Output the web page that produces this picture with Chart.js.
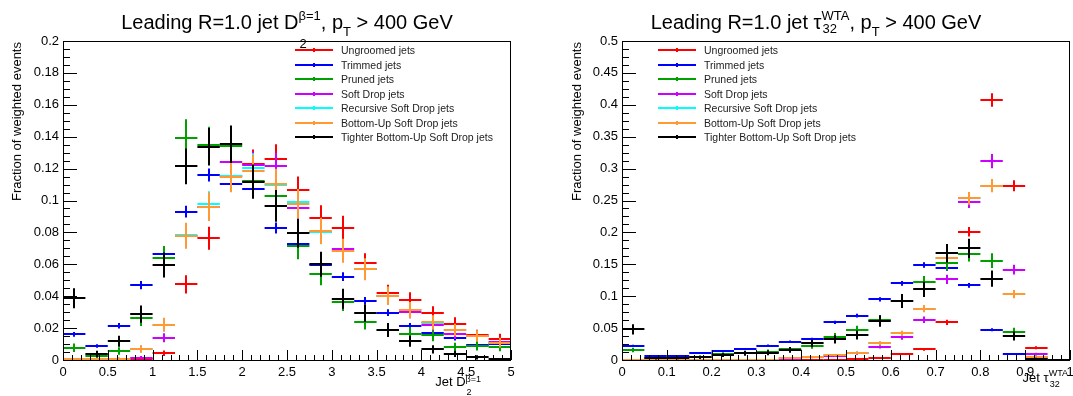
<!DOCTYPE html>
<html>
<head>
<meta charset="utf-8">
<script src="https://cdn.jsdelivr.net/npm/chart.js@4.4.1/dist/chart.umd.min.js"></script>
<style>
  html, body { margin: 0; padding: 0; background: #fff; }
  body { width: 1073px; height: 396px; position: relative; overflow: hidden; font-family: "Liberation Sans", Arial, sans-serif; color: #000; }
  canvas { position: absolute; top: 0; }
  .title { position: absolute; top: 10px; font-size: 20px; line-height: 24px; white-space: nowrap; transform: translateX(-50%); }
  .stk { position: relative; display: inline-block; font-size: 13px; line-height: 13px; }
  .stk .up { position: relative; top: -9px; }
  .stk .dn { position: absolute; left: 1px; top: 19px; }
  .tau .stk .dn { top: 4px; }
  .sb { font-size: 13px; position: relative; top: 7px; }
  .ytitle { position: absolute; width: 0; height: 0; }
  .ytitle span { position: absolute; right: 0; top: 0; white-space: nowrap; font-size: 13px; line-height: 14px; transform-origin: right top; transform: rotate(-90deg); }
  .xtitle { position: absolute; top: 375px; font-size: 13px; line-height: 14px; white-space: nowrap; transform: translateX(-100%); }
  .xtitle .stk { font-size: 9px; line-height: 9px; }
  .xtitle .stk .up { top: -4px; }
  .xtitle .stk .dn { top: 9px; }
  .xtitle.tau { top: 371px; }
  .xtitle.tau .stk .up { top: -6px; }
  .xtitle.tau .stk .dn { top: 5px; }
  .legend { position: absolute; top: 43px; font-size: 10.5px; color: #222; }
  .legend .row { position: relative; height: 14.5px; line-height: 14.5px; white-space: nowrap; }
  .legend .swatch { position: absolute; left: 0; top: 6px; width: 38px; height: 2px; }
  .legend .swatch i { position: absolute; left: 18px; top: -1px; width: 2px; height: 4px; background: inherit; }
  .legend .label { position: absolute; white-space: nowrap; }
</style>
</head>
<body>
<canvas id="d2Chart" width="536" height="396" style="left:0"></canvas>
<canvas id="tauChart" width="537" height="396" style="left:536px"></canvas>

<div class="title" style="left:287px">Leading R=1.0 jet D<span class="stk"><span class="up">&beta;=1</span><span class="dn">2</span></span>, p<span class="sb">T</span> &gt; 400 GeV</div>
<div class="title tau" style="left:816px">Leading R=1.0 jet &tau;<span class="stk"><span class="up">WTA</span><span class="dn">32</span></span>, p<span class="sb">T</span> &gt; 400 GeV</div>

<div class="ytitle" style="left:10px;top:42px"><span>Fraction of weighted events</span></div>
<div class="ytitle" style="left:570px;top:42px"><span>Fraction of weighted events</span></div>

<div class="xtitle" style="left:481px">Jet D<span class="stk"><span class="up">&beta;=1</span><span class="dn">2</span></span></div>
<div class="xtitle tau" style="left:1068px">Jet &tau;<span class="stk"><span class="up">WTA</span><span class="dn">32</span></span></div>

<div class="legend" id="d2Legend" style="left:295px"></div>
<div class="legend" id="tauLegend" style="left:658px"></div>

<script>
const seriesNames = [
  'Ungroomed jets',
  'Trimmed jets',
  'Pruned jets',
  'Soft Drop jets',
  'Recursive Soft Drop jets',
  'Bottom-Up Soft Drop jets',
  'Tighter Bottom-Up Soft Drop jets'
];
const seriesColors = ['#ff0000', '#0000ff', '#00a000', '#cc00ff', '#00ffff', '#ff9933', '#000000'];

// bin edges
const d2Edges = [0, 0.25, 0.5, 0.75, 1, 1.25, 1.5, 1.75, 2, 2.25, 2.5, 2.75, 3, 3.25, 3.5, 3.75, 4, 4.25, 4.5, 4.75, 5];
const tauEdges = [0, 0.05, 0.1, 0.15, 0.2, 0.25, 0.3, 0.35, 0.4, 0.45, 0.5, 0.55, 0.6, 0.65, 0.7, 0.75, 0.8, 0.85, 0.9, 0.95, 1];

// tick labels
const d2XTicks = [0, 0.5, 1, 1.5, 2, 2.5, 3, 3.5, 4, 4.5, 5];
const d2YTicks = [0, 0.02, 0.04, 0.06, 0.08, 0.1, 0.12, 0.14, 0.16, 0.18, 0.2];
const tauXTicks = [0, 0.1, 0.2, 0.3, 0.4, 0.5, 0.6, 0.7, 0.8, 0.9, 1];
const tauYTicks = [0, 0.05, 0.1, 0.15, 0.2, 0.25, 0.3, 0.35, 0.4, 0.45, 0.5];

// D2 (beta=1) distributions
const d2Ungroomed = [0.0003, 0.0003, 0.0005, 0.0008, 0.0042, 0.0474, 0.0763, 0.1156, 0.1229, 0.126, 0.1066, 0.0892, 0.083, 0.0606, 0.0418, 0.0374, 0.0293, 0.0228, 0.0157, 0.0134];
const d2Trimmed = [0.0161, 0.0088, 0.0215, 0.047, 0.0663, 0.093, 0.116, 0.1101, 0.1072, 0.0828, 0.0725, 0.0598, 0.0522, 0.0372, 0.0297, 0.0215, 0.0169, 0.0136, 0.0096, 0.0102];
const d2Pruned = [0.0077, 0.0025, 0.0056, 0.0263, 0.0637, 0.1394, 0.1348, 0.1342, 0.112, 0.1026, 0.0715, 0.0541, 0.0366, 0.024, 0.019, 0.0165, 0.0157, 0.008, 0.0088, 0.0084];
const d2SoftDrop = [0.0002, 0.0002, 0.0004, 0.0015, 0.014, 0.078, 0.096, 0.124, 0.1222, 0.1214, 0.0951, 0.08, 0.0694, 0.057, 0.04, 0.0303, 0.0219, 0.0163, 0.015, 0.011];
const d2RecursiveSD = [0.0006, 0.0005, 0.0008, 0.0069, 0.0221, 0.0785, 0.0976, 0.1156, 0.1206, 0.11, 0.0989, 0.08, 0.0685, 0.0569, 0.0403, 0.0313, 0.0232, 0.0188, 0.0151, 0.0109];
const d2BottomUpSD = [0.0006, 0.0005, 0.0008, 0.0069, 0.0221, 0.0779, 0.0961, 0.115, 0.1187, 0.1103, 0.0978, 0.0809, 0.0685, 0.0569, 0.0403, 0.0313, 0.0236, 0.0188, 0.0151, 0.0109];
const d2TighterBUSD = [0.0387, 0.0038, 0.0117, 0.0288, 0.0596, 0.1214, 0.1337, 0.1352, 0.1118, 0.0967, 0.0794, 0.06, 0.0384, 0.0295, 0.0188, 0.0117, 0.0067, 0.0038, 0.0017, 0.0004];

// tau32 (WTA) distributions
const tauUngroomed = [0, 0, 0, 0, 0, 0, 0, 0, 0.0005, 0.0005, 0.0015, 0.0025, 0.0094, 0.0167, 0.059, 0.2011, 0.4075, 0.2732, 0.0193, 0];
const tauTrimmed = [0.0224, 0.0063, 0.0066, 0.0105, 0.0136, 0.0167, 0.0225, 0.0287, 0.0329, 0.059, 0.0695, 0.0951, 0.1202, 0.1489, 0.1442, 0.117, 0.0475, 0.0094, 0.001, 0];
const tauPruned = [0.0157, 0.0026, 0.003, 0.0052, 0.009, 0.0115, 0.013, 0.0167, 0.022, 0.0366, 0.0475, 0.0627, 0.093, 0.1217, 0.152, 0.1661, 0.1557, 0.0444, 0.005, 0];
const tauSoftDrop = [0, 0, 0, 0, 0, 0, 0, 0.0015, 0.004, 0.007, 0.0104, 0.0209, 0.0355, 0.0632, 0.1264, 0.2482, 0.3119, 0.1416, 0.0094, 0];
const tauRecursiveSD = [0, 0, 0, 0, 0, 0.0005, 0.0005, 0.003, 0.005, 0.0078, 0.0115, 0.0261, 0.0418, 0.0805, 0.1604, 0.2534, 0.2732, 0.1034, 0.004, 0];
const tauBottomUpSD = [0, 0, 0, 0, 0, 0.0005, 0.0005, 0.003, 0.005, 0.0078, 0.0115, 0.0261, 0.0418, 0.0805, 0.1599, 0.2534, 0.2732, 0.1034, 0.004, 0.0005];
const tauTighterBUSD = [0.048, 0.0026, 0.003, 0.004, 0.0078, 0.0105, 0.0115, 0.016, 0.026, 0.0324, 0.0392, 0.0611, 0.0925, 0.1108, 0.1672, 0.175, 0.1275, 0.0376, 0.002, 0];

// rough statistical error size per series (err ~ k * sqrt(value))
const d2ErrScale = [0.026, 0.012, 0.031, 0.024, 0.026, 0.029, 0.032];
const tauErrScale = [0.0165, 0.011, 0.029, 0.02, 0.018, 0.02, 0.036];

const d2Series = [d2Ungroomed, d2Trimmed, d2Pruned, d2SoftDrop, d2RecursiveSD, d2BottomUpSD, d2TighterBUSD];
const tauSeries = [tauUngroomed, tauTrimmed, tauPruned, tauSoftDrop, tauRecursiveSD, tauBottomUpSD, tauTighterBUSD];

// draws ROOT-style crosses: bin-width horizontal bar + vertical error bar
const crossPlugin = {
  id: 'crosses',
  afterDatasetsDraw(chart) {
    const { ctx, chartArea } = chart;
    const xs = chart.scales.x;
    const ys = chart.scales.y;
    ctx.save();
    ctx.beginPath();
    ctx.rect(chartArea.left, chartArea.top, chartArea.width, chartArea.height);
    ctx.clip();
    ctx.lineWidth = 2;
    chart.data.datasets.forEach(ds => {
      ctx.strokeStyle = ds.borderColor;
      ds.data.forEach(p => {
        const yc = Math.round(ys.getPixelForValue(p.y));
        const xc = Math.round(xs.getPixelForValue(p.x));
        ctx.beginPath();
        ctx.moveTo(xs.getPixelForValue(p.lo), yc);
        ctx.lineTo(xs.getPixelForValue(p.hi), yc);
        ctx.moveTo(xc, ys.getPixelForValue(p.y + p.err));
        ctx.lineTo(xc, ys.getPixelForValue(Math.max(0, p.y - p.err)));
        ctx.stroke();
      });
    });
    ctx.restore();
  }
};

// frame plus inward major/minor ticks on the left and bottom axes
const rootAxesPlugin = {
  id: 'rootAxes',
  afterDraw(chart, args, opts) {
    const { ctx, chartArea: a } = chart;
    const xs = chart.scales.x;
    const ys = chart.scales.y;
    ctx.save();
    ctx.strokeStyle = '#000';
    ctx.lineWidth = 1;
    ctx.strokeRect(Math.round(a.left) + 0.5, Math.round(a.top) + 0.5, Math.round(a.width) - 1, Math.round(a.height));

    ctx.beginPath();
    let n = Math.round((xs.max - xs.min) / opts.xMinor);
    for (let k = 0; k <= n; k++) {
      const v = xs.min + k * opts.xMinor;
      const major = Math.abs(v / opts.xMajor - Math.round(v / opts.xMajor)) < 1e-6;
      const px = Math.round(xs.getPixelForValue(v)) + 0.5;
      ctx.moveTo(px, a.bottom);
      ctx.lineTo(px, a.bottom - (major ? 10 : 5));
    }
    n = Math.round((ys.max - ys.min) / opts.yMinor);
    for (let k = 0; k <= n; k++) {
      const v = ys.min + k * opts.yMinor;
      const major = Math.abs(v / opts.yMajor - Math.round(v / opts.yMajor)) < 1e-6;
      const py = Math.round(ys.getPixelForValue(v)) + 0.5;
      ctx.moveTo(a.left, py);
      ctx.lineTo(a.left + (major ? 14 : 7), py);
    }
    ctx.stroke();
    ctx.restore();
  }
};

function buildDatasets(edges, series, errScale) {
  return series.map((values, s) => ({
    label: seriesNames[s],
    borderColor: seriesColors[s],
    backgroundColor: seriesColors[s],
    pointRadius: 0,
    showLine: false,
    data: values.map((v, i) => ({
      x: (edges[i] + edges[i + 1]) / 2,
      y: v,
      lo: edges[i],
      hi: edges[i + 1],
      err: errScale[s] * Math.sqrt(v)
    }))
  }));
}

const fmtTick = v => String(Number(v.toFixed(4)));

function makeChart(canvasId, edges, series, errScale, xTicks, yTicks, axisWidth, padRight, minors) {
  const tickFont = { family: '"Liberation Sans", Arial, sans-serif', size: 13 };
  return new Chart(document.getElementById(canvasId), {
    type: 'scatter',
    data: { datasets: buildDatasets(edges, series, errScale) },
    options: {
      responsive: false,
      animation: false,
      devicePixelRatio: 1,
      layout: { padding: { top: 41, right: padRight, left: 0, bottom: 0 } },
      plugins: {
        legend: { display: false },
        tooltip: { enabled: false },
        rootAxes: minors
      },
      scales: {
        x: {
          type: 'linear',
          min: xTicks[0],
          max: xTicks[xTicks.length - 1],
          grid: { display: false, drawTicks: false },
          border: { display: false },
          afterBuildTicks: s => { s.ticks = xTicks.map(v => ({ value: v })); },
          afterFit: s => { s.height = 36; s.paddingLeft = 0; s.paddingRight = 0; },
          ticks: { autoSkip: false, maxRotation: 0, padding: 5, color: '#000', font: tickFont, callback: fmtTick }
        },
        y: {
          type: 'linear',
          min: yTicks[0],
          max: yTicks[yTicks.length - 1],
          grid: { display: false, drawTicks: false },
          border: { display: false },
          afterBuildTicks: s => { s.ticks = yTicks.map(v => ({ value: v })); },
          afterFit: s => { s.width = axisWidth; s.paddingTop = 0; s.paddingBottom = 0; },
          ticks: { autoSkip: false, padding: 4, color: '#000', font: tickFont, callback: fmtTick }
        }
      }
    },
    plugins: [crossPlugin, rootAxesPlugin]
  });
}

makeChart('d2Chart', d2Edges, d2Series, d2ErrScale, d2XTicks, d2YTicks, 63, 25,
  { xMajor: 0.5, xMinor: 0.1, yMajor: 0.02, yMinor: 0.005 });
makeChart('tauChart', tauEdges, tauSeries, tauErrScale, tauXTicks, tauYTicks, 86, 3,
  { xMajor: 0.1, xMinor: 0.02, yMajor: 0.05, yMinor: 0.0125 });

function buildLegend(id, textOffset) {
  const box = document.getElementById(id);
  seriesNames.forEach((name, i) => {
    const row = document.createElement('div');
    row.className = 'row';
    row.innerHTML = `<div class="swatch" style="background:${seriesColors[i]}"><i></i></div><span class="label" style="left:${textOffset}px">${name}</span>`;
    box.appendChild(row);
  });
}

buildLegend('d2Legend', 46);
buildLegend('tauLegend', 46);
</script>
</body>
</html>
